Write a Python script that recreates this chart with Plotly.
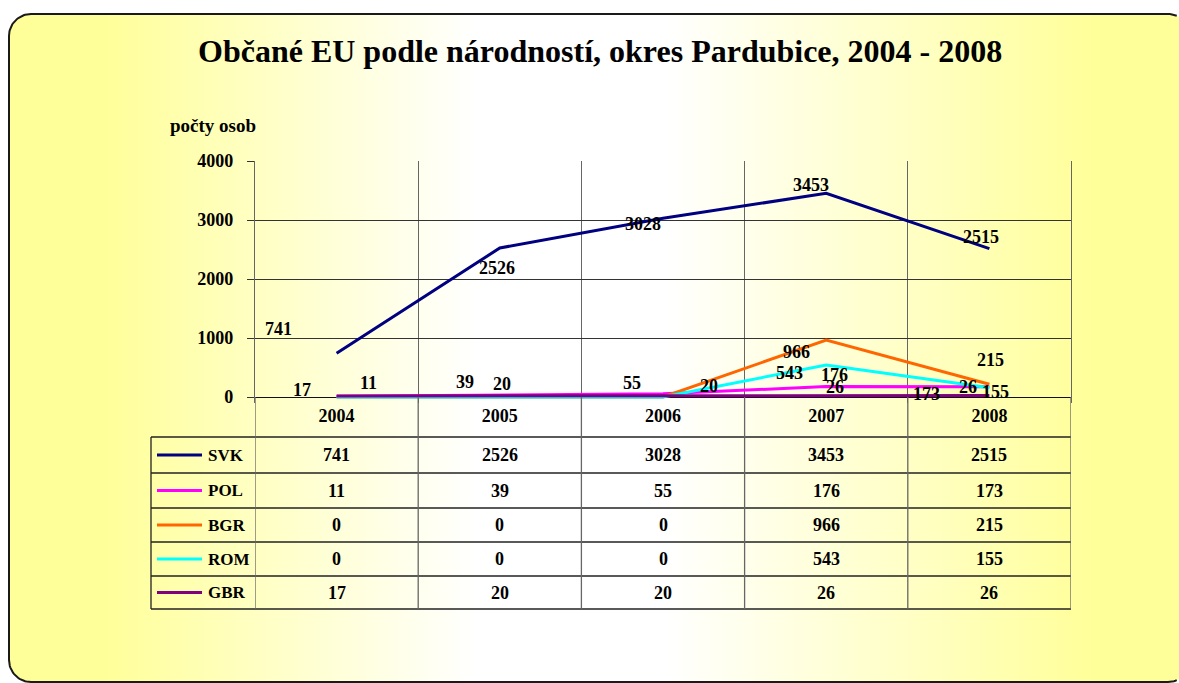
import numpy as np
import plotly.graph_objects as go

# ---------------- data ----------------
years = ["2004", "2005", "2006", "2007", "2008"]
series_names = ["SVK", "POL", "BGR", "ROM", "GBR"]
svk = [741, 2526, 3028, 3453, 2515]
pol = [11, 39, 55, 176, 173]
bgr = [0, 0, 0, 966, 215]
rom = [0, 0, 0, 543, 155]
gbr = [17, 20, 20, 26, 26]
y_ticks = [0, 1000, 2000, 3000, 4000]
title_text = "Občané EU podle národností, okres Pardubice, 2004 - 2008"
y_title = "počty osob"

series_values = {"SVK": svk, "POL": pol, "BGR": bgr, "ROM": rom, "GBR": gbr}

# ---------------- style ----------------
W, H = 1179, 683
colors = {"SVK": "#000080", "POL": "#FF00FF", "BGR": "#FF6600",
          "ROM": "#00FFFF", "GBR": "#800080"}
# data-label offsets in pixels (dx right, dy down)
label_offsets = {
    "SVK": [(-58, -24), (-3, 20), (-20, 6), (-15, -8), (-8, -12)],
    "POL": [(32, -13), (-35, -13), (-31, -11), (8, -12), (-63, 7)],
    "BGR": [(0, 0), (0, 0), (0, 0), (-30, 12), (1, -24)],
    "ROM": [(0, 0), (0, 0), (0, 0), (-37, 8), (6, 4)],
    "GBR": [(-35, -6), (2, -12), (46, -10), (9, -8), (-21, -8)],
}
SERIF = "Liberation Serif"
NUM_FONT = dict(family=SERIF, size=18, color="black", weight="bold")


def px(x):
    return x / W


def py(y):
    return 1 - y / H


# plot area in pixels
PL, PR, PT, P0 = 255, 1071, 161, 397
YMAX, YMIN = 4000, -100
ppu = (P0 - PT) / YMAX
PB = P0 - YMIN * ppu

fig = go.Figure()

# ---------- background: rounded frame with horizontal gradient ----------
def arc(cx, cy, r, a0, a1, n=24):
    t = np.radians(np.linspace(a0, a1, n))
    return list(cx + r * np.cos(t)), list(cy + r * np.sin(t))


def keep_inside(xs, ys, xmax):
    pts = [(x, y) for x, y in zip(xs, ys) if x <= xmax]
    return [p[0] for p in pts], [p[1] for p in pts]


FX0, FY0, FX1, FY1, FR = 9, 14, 1190, 682, 22
XMAX = W - 1

# gradient fill polygon, clipped to the picture width
fx, fy = [], []
for cx, cy, a0, a1 in [(FX1 - FR, FY0 + FR, -90, 0), (FX1 - FR, FY1 - FR, 0, 90),
                       (FX0 + FR, FY1 - FR, 90, 180), (FX0 + FR, FY0 + FR, 180, 270)]:
    ax_, ay_ = arc(cx, cy, FR, a0, a1)
    fx += [min(v, W) for v in ax_]
    fy += ay_
fx.append(fx[0])
fy.append(fy[0])
fig.add_trace(go.Scatter(
    x=fx, y=fy, mode="lines", fill="toself",
    line=dict(color="rgba(0,0,0,0)", width=0),
    fillgradient=dict(type="horizontal", colorscale=[
        [0, "#FFFF99"], [0.08, "#FFFF99"], [0.40, "#FFFFFF"],
        [0.56, "#FFFFFF"], [0.93, "#FFFF99"], [1, "#FFFF99"]]),
    hoverinfo="skip", showlegend=False, xaxis="x", yaxis="y"))

# outline: open path, only the visible part
tr_x, tr_y = keep_inside(*arc(FX1 - FR, FY0 + FR, FR, 0, -90), XMAX)
tl_x, tl_y = arc(FX0 + FR, FY0 + FR, FR, 270, 180)
bl_x, bl_y = arc(FX0 + FR, FY1 - FR, FR, 180, 90)
br_x, br_y = keep_inside(*arc(FX1 - FR, FY1 - FR, FR, 90, 0), XMAX)
fig.add_trace(go.Scatter(
    x=tr_x + tl_x + bl_x + br_x, y=tr_y + tl_y + bl_y + br_y,
    mode="lines", line=dict(color="#1a1a1a", width=2),
    hoverinfo="skip", showlegend=False, xaxis="x", yaxis="y"))

# ---------- data lines ----------
for name in series_names:
    fig.add_trace(go.Scatter(
        x=years, y=series_values[name], mode="lines", name=name,
        line=dict(color=colors[name], width=3),
        showlegend=False, xaxis="x2", yaxis="y2"))

annotations = []
# data labels (category axis -> positioned by category index)
for name in series_names:
    for i, (v, (dx, dy)) in enumerate(zip(series_values[name], label_offsets[name])):
        if v == 0:
            continue
        annotations.append(dict(
            x=i, y=v, xref="x2", yref="y2", text=str(v), showarrow=False,
            xshift=dx, yshift=-dy, font=NUM_FONT,
            xanchor="center", yanchor="middle"))

# title and axis title
annotations.append(dict(
    x=px(600), y=py(51), xref="paper", yref="paper", text=title_text,
    showarrow=False, xanchor="center", yanchor="middle",
    font=dict(family=SERIF, size=32, color="black", weight="bold")))
annotations.append(dict(
    x=px(168), y=py(125), xref="paper", yref="paper", text=y_title,
    showarrow=False, xanchor="left", yanchor="middle",
    font=dict(family=SERIF, size=19, color="black", weight="bold")))

# ---------- data table ----------
row_edges = [437, 473, 508, 542, 576, 609]
row_centers = [(a + b) / 2 for a, b in zip(row_edges[:-1], row_edges[1:])]
shapes = []
for ye in row_edges:
    shapes.append(dict(type="line", xref="paper", yref="paper",
                       x0=px(151), x1=px(PR), y0=py(ye), y1=py(ye),
                       line=dict(color="#222222", width=1.3)))
shapes.append(dict(type="line", xref="paper", yref="paper",
                   x0=px(151), x1=px(151), y0=py(row_edges[0]), y1=py(row_edges[-1]),
                   line=dict(color="#222222", width=1.3)))
for i in range(len(years) + 1):
    shapes.append(dict(type="line", xref="x2", yref="paper",
                       x0=i - 0.5, x1=i - 0.5, y0=py(P0), y1=py(row_edges[-1]),
                       line=dict(color="#666666", width=1.3)))

for name, yc in zip(series_names, row_centers):
    shapes.append(dict(type="line", xref="paper", yref="paper",
                       x0=px(157), x1=px(202), y0=py(yc), y1=py(yc),
                       line=dict(color=colors[name], width=3)))
    annotations.append(dict(
        x=px(206), y=py(yc), xref="paper", yref="paper", text=name,
        showarrow=False, xanchor="left", yanchor="middle",
        font=dict(family=SERIF, size=17, color="black", weight="bold")))
    for i, v in enumerate(series_values[name]):
        annotations.append(dict(
            x=i, y=py(yc), xref="x2", yref="paper", text=str(v),
            showarrow=False, xanchor="center", yanchor="middle",
            font=NUM_FONT))

fig.update_layout(
    width=W, height=H, autosize=False,
    margin=dict(l=0, r=0, t=0, b=0, pad=0, autoexpand=False),
    paper_bgcolor="white", plot_bgcolor="rgba(0,0,0,0)",
    showlegend=False,
    xaxis=dict(domain=[0, 1], range=[0, W], visible=False, fixedrange=True),
    yaxis=dict(domain=[0, 1], range=[H, 0], visible=False, fixedrange=True),
    xaxis2=dict(domain=[px(PL), px(PR)], range=[-0.5, len(years) - 0.5],
                type="category", anchor="y2", tickson="boundaries",
                showgrid=True, gridcolor="#666666", gridwidth=1.3,
                ticks="", showline=False, zeroline=False, automargin=False,
                tickfont=NUM_FONT, ticklabelstandoff=0),
    yaxis2=dict(domain=[py(PB), py(PT)], range=[YMIN, YMAX], anchor="x2",
                tickvals=y_ticks, showgrid=True, gridcolor="#333333", gridwidth=1.2,
                zeroline=True, zerolinecolor="#111111", zerolinewidth=1.3,
                showline=True, mirror=True, linecolor="#666666", linewidth=1.3,
                ticks="outside", ticklen=7, tickcolor="#333333", automargin=False,
                tickfont=NUM_FONT, ticklabelstandoff=10),
    shapes=shapes,
    annotations=annotations,
)

fig.write_html(
    "out.html",
    config={"responsive": False, "displayModeBar": False},
    post_script="document.body.style.margin='0';document.body.style.overflow='hidden';",
)
